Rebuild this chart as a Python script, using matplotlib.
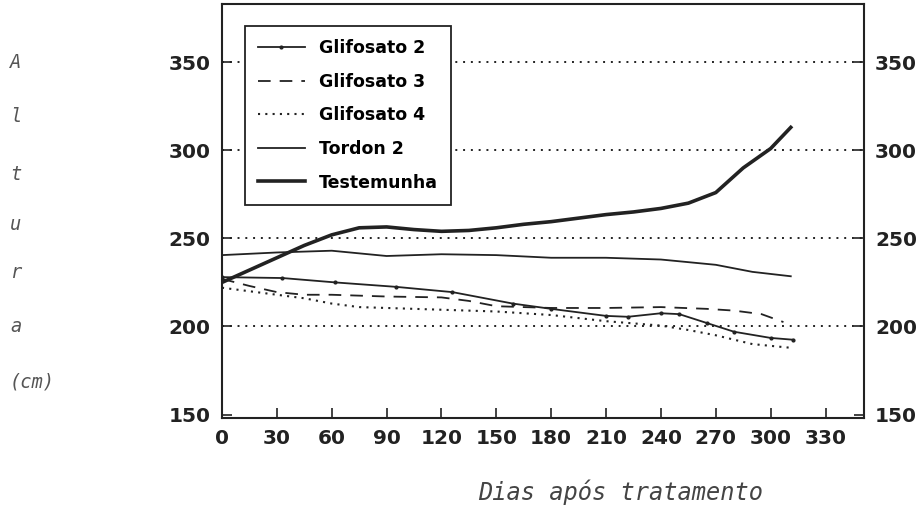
import numpy as np
import matplotlib.pyplot as plt

# DATA ########################################################################

dias_test = [0, 15, 30, 45, 60, 75, 90, 105, 120, 135, 150, 165, 180, 195, 210,
             225, 240, 255, 270, 285, 300, 311]
testemunha = [225, 232, 239, 246, 252, 256, 256.5, 255, 254, 254.5, 256, 258,
              259.5, 261.5, 263.5, 265, 267, 270, 276, 290, 301, 313]

dias_tordon = [0, 30, 60, 90, 120, 150, 180, 210, 240, 270, 290, 311]
tordon2 = [240.5, 242, 243, 240, 241, 240.5, 239, 239, 238, 235, 231, 228.5]

dias_g2 = [0, 33, 62, 95, 126, 159, 180, 210, 222, 240, 250, 265, 280, 300, 312]
glifosato2 = [228, 227.5, 225, 222.5, 219.5, 213, 210, 206, 205.5, 207.5, 207,
              202, 197, 193.5, 192.5]

dias_g3 = [0, 15, 30, 45, 60, 90, 120, 135, 150, 180, 210, 240, 265, 280, 295, 307]
glifosato3 = [227, 223, 219.5, 218, 218, 217, 216.5, 214.5, 211.5, 210.5, 210.5,
              211, 210, 209, 207, 202.5]

dias_g4 = [0, 15, 30, 45, 60, 75, 90, 120, 150, 180, 210, 240, 255, 270, 290, 310]
glifosato4 = [222, 220, 218, 216, 213, 211, 210.5, 209.5, 208.5, 206.5, 203,
              200.5, 198, 195, 190, 188]

x_ticks = list(range(0, 331, 30))
y_ticks = [150, 200, 250, 300, 350]
ylabel_parts = ["A", "l", "t", "u", "r", "a", "(cm)"]
xlabel = "Dias após tratamento"

# PLOT ########################################################################

ink = "#222222"
fig = plt.figure(figsize=(9.23, 5.08), dpi=100)
ax = fig.add_axes([0.2405, 0.177, 0.6955, 0.815])

for yv in y_ticks[1:]:
    ax.axhline(yv, color=ink, lw=1.4, ls=(0, (1, 3)), zorder=1)

ax.plot(dias_g2, glifosato2, color=ink, lw=1.3, marker='.', ms=4, label="Glifosato 2")
ax.plot(dias_g3, glifosato3, color=ink, lw=1.3, ls=(0, (7, 5)), label="Glifosato 3")
ax.plot(dias_g4, glifosato4, color=ink, lw=1.5, ls=(0, (1, 2.5)), label="Glifosato 4")
ax.plot(dias_tordon, tordon2, color=ink, lw=1.3, label="Tordon 2")
ax.plot(dias_test, testemunha, color=ink, lw=2.6, label="Testemunha")

ax.set_xlim(0, 351)
ax.set_ylim(148, 383)
ax.set_xticks(x_ticks)
ax.set_yticks(y_ticks)
ax.tick_params(direction='in', length=7, width=1.2, color=ink,
               labelsize=14.5, labelcolor=ink, right=True, labelright=True, pad=8)
for lab in ax.get_xticklabels() + ax.get_yticklabels():
    lab.set_fontweight('bold')
for s in ax.spines.values():
    s.set_linewidth(1.5)
    s.set_color(ink)

leg = ax.legend(loc='upper left', bbox_to_anchor=(0.022, 0.968), fancybox=False,
                framealpha=1, edgecolor=ink, handlelength=2.7, labelspacing=0.9,
                borderpad=0.75, handletextpad=0.8,
                prop={'weight': 'bold', 'size': 12.5})
leg.get_frame().set_linewidth(1.3)

# stacked y label
ys = [62, 117, 175, 225, 272, 327, 382]
for txt, yp in zip(ylabel_parts, ys):
    fig.text(10 / 923, 1 - yp / 508, txt, ha='left', va='center', fontsize=13.5,
             family='DejaVu Sans Mono', style='italic', color='#555555')

fig.text(621 / 923, 1 - 492 / 508, xlabel, ha='center', va='center', fontsize=17,
         family='DejaVu Sans Mono', style='italic', color='#444444')

# SAVE ########################################################################

plt.savefig("out.png", dpi=100)
